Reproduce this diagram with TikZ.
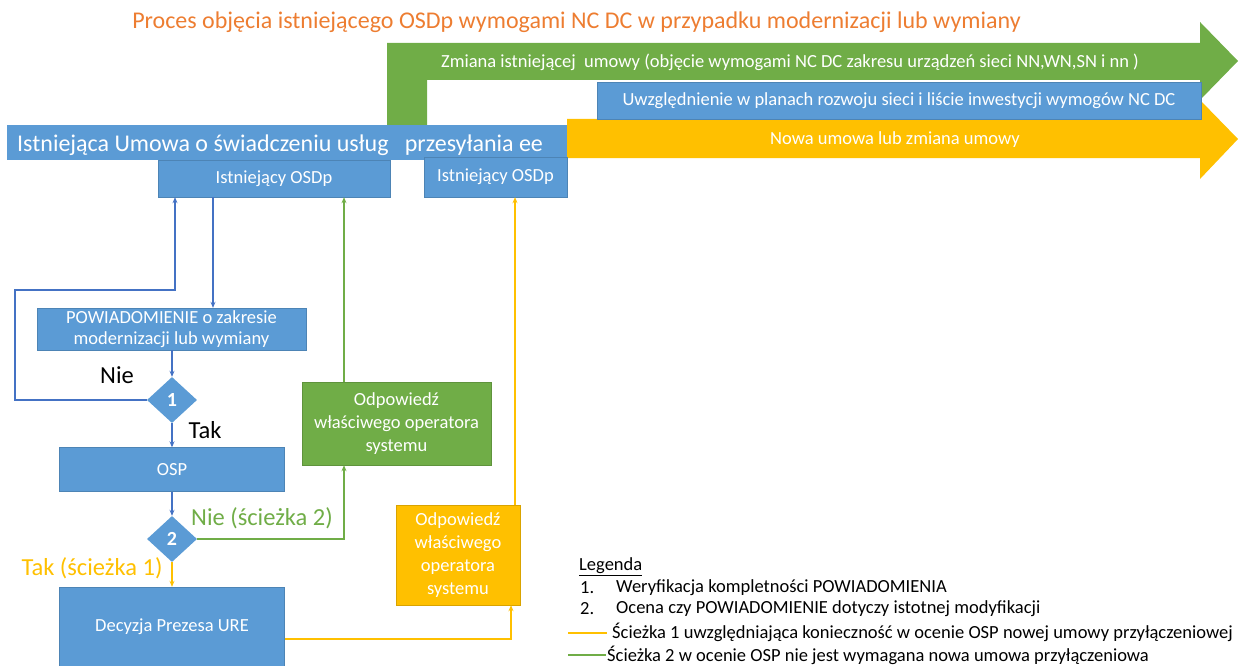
\documentclass[tikz,border=0pt]{standalone}
\usepackage{fontspec}
\setmainfont{Carlito}
\usetikzlibrary{shapes.geometric,arrows.meta}

\definecolor{pblue}{HTML}{5B9BD5}
\definecolor{pblueline}{HTML}{4472C4}
\definecolor{pgreen}{HTML}{70AD47}
\definecolor{pyellow}{HTML}{FFC000}
\definecolor{porange}{HTML}{ED7D31}

\tikzset{
  bluebox/.style={fill=pblue, draw=pblue!85!black, line width=0.4pt, text=white,
    font=\fontsize{18.5}{20.5}\selectfont, align=center, inner sep=0pt},
  greenbox/.style={fill=pgreen, draw=pgreen!85!black, line width=0.4pt, text=white,
    font=\fontsize{18.5}{23}\selectfont, align=center, inner sep=0pt},
  yellowbox/.style={fill=pyellow, draw=pyellow!85!black, line width=0.4pt, text=white,
    font=\fontsize{18.5}{23}\selectfont, align=center, inner sep=0pt},
  decision/.style={diamond, fill=pblue, text=white, inner sep=0pt,
    minimum width=50pt, minimum height=46pt, font=\fontsize{20}{20}\selectfont\bfseries},
  blink/.style={draw=pblueline, line width=1.3pt, -{Stealth[length=6pt,width=5pt]}},
  glink/.style={draw=pgreen, line width=1.3pt, -{Stealth[length=6pt,width=5pt]}},
  ylink/.style={draw=pyellow, line width=1.3pt, -{Stealth[length=6pt,width=5pt]}},
  lbl/.style={font=\fontsize{24.5}{24.5}\selectfont, inner sep=0pt},
  legtext/.style={font=\fontsize{18.5}{20}\selectfont, inner sep=0pt, anchor=west}
}

\begin{document}
\begin{tikzpicture}[x=1pt, y=-1pt]
  \useasboundingbox (0,0) rectangle (1252,666);

  % title
  \node[text=porange, font=\fontsize{24}{24}\selectfont, inner sep=0pt] (title) at (576.5,22)
    {Proces objęcia istniejącego OSDp wymogami NC DC w przypadku modernizacji lub wymiany};

  % big arrows
  \fill[pgreen] (387,125) -- (387,43) -- (1200,43) -- (1200,22) -- (1238,61) -- (1200,100)
    -- (1200,80) -- (427,80) -- (427,125) -- cycle;
  \fill[pyellow] (567,119) -- (1200,119) -- (1200,100) -- (1238,139) -- (1200,179)
    -- (1200,158) -- (567,158) -- cycle;
  \node[text=white, font=\fontsize{18.5}{18.5}\selectfont, inner sep=0pt] (zmiana) at (790,62)
    {Zmiana istniejącej\ \ umowy (objęcie wymogami NC DC zakresu urządzeń\ sieci NN,WN,SN i nn )};
  \node[text=white, font=\fontsize{18.5}{18.5}\selectfont, inner sep=0pt] (nowa) at (895,140)
    {Nowa umowa lub zmiana umowy};
  \node[bluebox, minimum width=604pt, minimum height=37pt] (plany) at (899,100.5)
    {Uwzględnienie w planach rozwoju sieci i liście inwestycji wymogów NC DC};

  % existing contract
  \node[bluebox, draw=none, minimum width=560pt, minimum height=35pt] (umowa) at (287,142.5) {};
  \node[text=white, font=\fontsize{24}{24}\selectfont, inner sep=0pt, anchor=west] (umowatxt) at (17,145)
    {Istniejąca Umowa o świadczeniu usług\ \ \ przesyłania ee};
  \node[bluebox, minimum width=232pt, minimum height=37pt] (osdp1) at (274,178.5) {Istniejący OSDp};
  \node[bluebox, minimum width=143pt, minimum height=40pt] (osdp2) at (495.5,177) {Istniejący OSDp};

  % flow
  \node[bluebox, minimum width=269pt, minimum height=42pt] (powiad) at (171.5,329)
    {POWIADOMIENIE o zakresie\\modernizacji lub wymiany};
  \node[decision] (d1) at (172,400) {1};
  \node[bluebox, minimum width=225pt, minimum height=44pt] (osp) at (172,469.5) {OSP};
  \node[decision] (d2) at (172,539) {2};
  \node[bluebox, minimum width=225pt, minimum height=80pt] (dec) at (172,627) {Decyzja Prezesa URE};
  \node[greenbox, minimum width=189pt, minimum height=83pt] (gbox) at (396.5,423.5)
    {Odpowiedź\\właściwego operatora\\systemu};
  \node[yellowbox, minimum width=124pt, minimum height=100pt] (ybox) at (458,555)
    {Odpowiedź\\właściwego\\operatora\\systemu};

  \coordinate (fb1) at (15,400);
  \coordinate (fb2) at (175,290);

  \draw[blink] ([xshift=-61pt]osdp1.south) -- ([xshift=41.5pt]powiad.north);
  \draw[blink] (d1.west) -- (fb1) |- (fb2) -- (fb2 |- osdp1.south);
  \draw[blink] (powiad.south -| d1) -- (d1.north);
  \draw[blink] (d1.south) -- (osp.north);
  \draw[blink] (osp.south) -- (d2.north);
  \draw[glink] (d2.east) -| ([xshift=-52.5pt]gbox.south);
  \draw[glink] ([xshift=-52.5pt]gbox.north) -- ([xshift=-52.5pt]gbox.north |- osdp1.south);
  \draw[ylink] (d2.south) -- (dec.north);
  \draw[ylink] ([yshift=-12pt]dec.east) -| ([xshift=53pt]ybox.south);
  \draw[ylink] ([xshift=57pt]ybox.north) -- ([xshift=57pt]ybox.north |- osdp2.south);

  % labels
  \node[lbl] (nie1) at (117,375) {Nie};
  \node[lbl] (tak1) at (205,430) {Tak};
  \node[lbl, text=pgreen] (nie2) at (262,518) {Nie (ścieżka 2)};
  \node[lbl, text=pyellow] (tak2) at (92,568) {Tak (ścieżka 1)};

  % legend
  \node[legtext] (leg) at (579,567) {\underline{Legenda}};
  \node[legtext] (leg1n) at (580,588) {1.};
  \node[legtext] (leg1) at (616,588) {Weryfikacja kompletności POWIADOMIENIA};
  \node[legtext] (leg2n) at (580,609) {2.};
  \node[legtext] (leg2) at (616,609) {Ocena czy POWIADOMIENIE dotyczy istotnej modyfikacji};
  \coordinate (ly) at (568,633);
  \node[legtext] (leg3) at (612,632) {Ścieżka 1 uwzględniająca konieczność\ w ocenie OSP nowej umowy przyłączeniowej};
  \draw[pyellow, line width=1.5pt] (ly) -- ([xshift=-5pt]leg3.west |- ly);
  \coordinate (lg) at (568,655);
  \node[legtext] (leg4) at (607,655) {Ścieżka 2 w ocenie OSP nie jest wymagana nowa umowa przyłączeniowa};
  \draw[pgreen, line width=1.5pt] (lg) -- ([xshift=-1pt]leg4.west |- lg);
\end{tikzpicture}
\end{document}
